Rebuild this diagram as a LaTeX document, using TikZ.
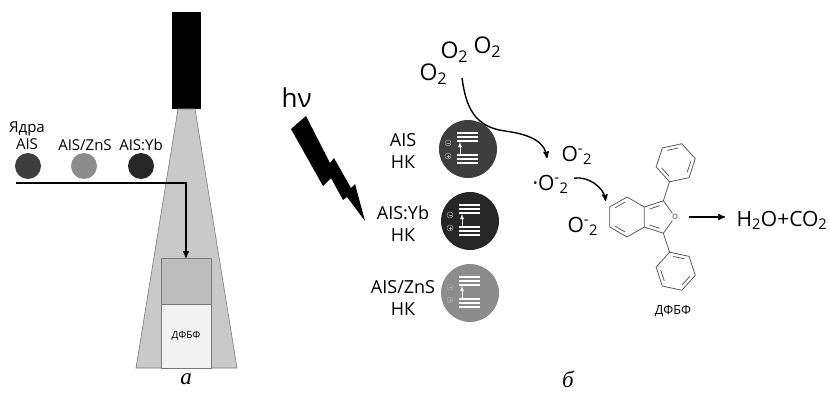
\documentclass[tikz,border=0pt]{standalone}
\usepackage{fontspec}
\setmainfont{Open Sans}
\newfontfamily\serifit{Liberation Serif}
\usetikzlibrary{arrows}

\definecolor{beam}{HTML}{C9C9C9}
\definecolor{frame}{HTML}{7A7A7A}
\definecolor{cell}{HTML}{F3F3F3}
\definecolor{coreA}{HTML}{3E3E3E}
\definecolor{dopYb}{HTML}{262626}
\definecolor{shellZn}{HTML}{8C8C8C}
\definecolor{bond}{HTML}{5A5A5A}

\newcommand\fs[2]{\fontsize{#1}{#2}\selectfont}

\begin{document}
\begin{tikzpicture}[x=1pt, y=-1pt, >=stealth',
	qd/.style={circle, minimum size=26pt, inner sep=0pt},
	nc/.style={circle, minimum size=58pt, inner sep=0pt},
	tag/.style={align=center, font=\fs{15}{17}},
	nclbl/.style={align=center, font=\fs{18}{22}},
	gas/.style={anchor=base west, font=\fs{23}{26}},
	ion/.style={anchor=base west, font=\fs{21}{24}},
	lvl/.style={white, line width=1.2pt},
	ring/.style={bond, line width=0.8pt},
	flow/.style={->, line width=1.4pt}]
	\useasboundingbox (0,0) rectangle (829,401);

	% Lamp, beam and cuvette
	\fill (172,12) rectangle (201,109);
	\filldraw [fill=beam, draw=frame, line width=0.6pt] (178,109) -- (195,109) -- (237,368) -- (136,368) -- cycle;
	\node [draw=frame, fill=beam!94!black, minimum width=50pt, minimum height=46pt, inner sep=0pt] (cuv) at (186,281) {};
	\node [draw=frame, fill=cell, minimum width=50pt, minimum height=64pt, inner sep=0pt, font=\fs{10}{12}] (dpbfCell) at (186,336) {ДФБФ};

	% Quantum dots {core, shell, doped}
	\node [qd, fill=coreA]   (core)  at (28,166)  {};
	\node [qd, fill=shellZn] (shell) at (84,166)  {};
	\node [qd, fill=dopYb]   (dop)   at (141,166) {};
	\node [tag] (coreLbl)  at (27,136)  {Ядра\\AIS};
	\node [tag] (shellLbl) at (85,145)  {AIS/ZnS};
	\node [tag] (dopLbl)   at (141,145) {AIS:Yb};

	\coordinate (feed) at (16,183);
	\draw [flow] (feed) -| (cuv.north);

	% Light
	\node [anchor=base west, font=\fs{26}{30}] (hv) at (278,108) {hν};
	\fill (291,129) -- (306,116) -- (330,163) -- (334,158) -- (351,188) -- (355,184) -- (365,221)
		-- (347,197) -- (343,200) -- (331,178) -- (323,186) -- cycle;

	% Nanocrystals {ncA, ncB, ncC}
	\node [nc, fill=coreA]   (ncA) at (468,149) {};
	\node [nc, fill=dopYb]   (ncB) at (470,221) {};
	\node [nc, fill=shellZn] (ncC) at (470,293) {};
	\node [nclbl] (ncALbl) at (403,151) {AIS\\НК};
	\node [nclbl] (ncBLbl) at (403,224) {AIS:Yb\\НК};
	\node [nclbl] (ncCLbl) at (403,298) {AIS/ZnS\\НК};

	\foreach \n in {ncA,ncB,ncC}{
		\begin{scope}[shift={(\n)}]
			\foreach \y in {-16,-12,-8,6,10,14}
				\draw [lvl] (-11,\y) -- (10,\y);
			\draw [white, line width=0.8pt, ->, >=latex] (-8,6) -- (-8,-7);
			\draw [gray!70, line width=0.5pt] (-20,-6) circle [radius=3] (-20,7) circle [radius=3];
			\draw [gray!70, line width=0.5pt] (-21.5,-6) -- (-18.5,-6) (-21.5,7) -- (-18.5,7) (-20,5.5) -- (-20,8.5);
		\end{scope}}

	% Oxygen and its radicals
	\node [gas] (o2a) at (416,81) {O\textsubscript{2}};
	\node [gas] (o2b) at (437,59) {O\textsubscript{2}};
	\node [gas] (o2c) at (470,54) {O\textsubscript{2}};
	\node [ion] (sup)   at (558,161) {O\textsuperscript{-}\textsubscript{2}};
	\node [ion] (rad)   at (529,190) {·O\textsuperscript{-}\textsubscript{2}};
	\node [ion] (anion) at (564,232) {O\textsuperscript{-}\textsubscript{2}};
	\coordinate (o2out) at (462,78);

	% DPBF molecule
	\begin{scope}[shift={(627,217)}, y=1pt, ring]
		\foreach \a/\n in {30/c3a,90/c4,150/c5,210/c6,270/c7,330/c7a}
			\coordinate (\n) at (\a:20);
		\coordinate (c1) at (36.34,16.18);
		\coordinate (c3) at (36.34,-16.18);
		\node [font=\fs{10}{12}, fill=white, inner sep=0.6pt, text=bond] (oxy) at (48.1,0) {o};
		\draw (c3a) -- (c4) -- (c5) -- (c6) -- (c7) -- (c7a) -- cycle;
		\draw (c3a) -- (c1) -- (oxy) -- (c3) -- (c7a);
		\draw (98:15) -- (142:15) (218:15) -- (262:15);
		\begin{scope}[shift={(31.08,0)}]
			\draw (134:11.4) -- (82:11.4) (-134:11.4) -- (-82:11.4);
		\end{scope}
		\draw (c1) -- (42.52,35.2) (c3) -- (42.52,-35.2);
		\foreach \cy/\t in {54.22/252,-54.22/108}{
			\begin{scope}[shift={(48.7,\cy)}]
				\draw (\t:20) \foreach \k in {1,...,5}{ -- (\t+60*\k:20)} -- cycle;
				\foreach \k in {1,3,5}
					\draw (\t+60*\k+8:15) -- (\t+60*\k+52:15);
			\end{scope}}
	\end{scope}
	\node [font=\fs{12.5}{15}] (dpbfLbl) at (673,311) {ДФБФ};
	\node [anchor=base west, font=\fs{21}{24}] (prod) at (733,226) {H\textsubscript{2}O+CO\textsubscript{2}};

	% Paths
	\draw [flow] (o2out) .. controls +(4,30) and +(-30,-4) .. (505,131)
		.. controls +(30,4) and +(-2,-14) .. ([xshift=-11pt, yshift=-3pt]sup.west);
	\draw [flow] ([shift={(2pt,6pt)}]rad.east) .. controls +(14,-2) and +(-2,-14) .. ([shift={(-4pt,6pt)}]c5);
	\draw [flow] ([xshift=10pt]oxy.east) -- ([xshift=-8pt]oxy.east -| prod.west);

	% Panel letters
	\node [font=\serifit\itshape\fs{23}{26}] (panA) at (186,379) {а};
	\node [font=\serifit\itshape\fs{23}{26}] (panB) at (568,379) {б};
\end{tikzpicture}
\end{document}
